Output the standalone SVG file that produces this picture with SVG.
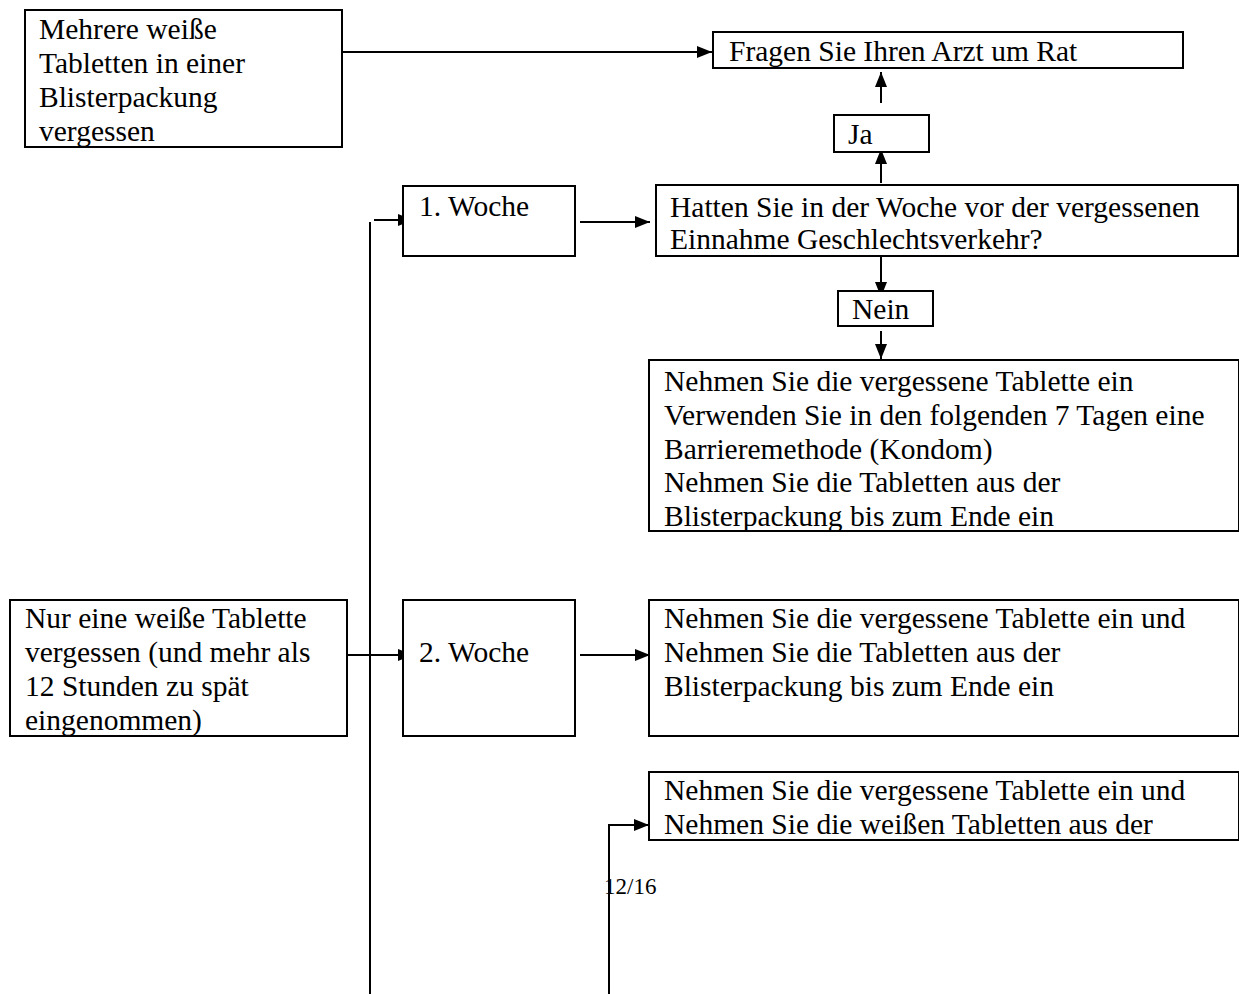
<svg xmlns="http://www.w3.org/2000/svg" width="1239" height="994" viewBox="0 0 1239 994">
<style>
.box{fill:#fff;stroke:#000;stroke-width:2}
.t{font-family:"Liberation Serif","Times New Roman",serif;font-size:29.5px;fill:#000}
.c{stroke:#000;stroke-width:2;fill:none}
.p{font-family:"Liberation Serif","Times New Roman",serif;font-size:23px;fill:#000}
</style>
<defs>
<marker id="ah" viewBox="0 0 15 12" refX="15" refY="6" markerWidth="15" markerHeight="12" markerUnits="userSpaceOnUse" orient="auto">
<path d="M0,0 L15,6 L0,12 z" fill="#000"/>
</marker>
</defs>
<rect width="1239" height="994" fill="#fff"/>
<g id="connectors">
<line class="c" x1="342" y1="52" x2="712" y2="52" marker-end="url(#ah)"/>
<line class="c" x1="881" y1="103" x2="881" y2="72" marker-end="url(#ah)"/>
<line class="c" x1="881" y1="183" x2="881" y2="149" marker-end="url(#ah)"/>
<line class="c" x1="370" y1="222" x2="370" y2="994"/>
<line class="c" x1="374" y1="220" x2="413" y2="220" marker-end="url(#ah)"/>
<line class="c" x1="580" y1="222" x2="650" y2="222" marker-end="url(#ah)"/>
<line class="c" x1="881" y1="256" x2="881" y2="297" marker-end="url(#ah)"/>
<line class="c" x1="881" y1="331" x2="881" y2="359" marker-end="url(#ah)"/>
<line class="c" x1="343" y1="655" x2="413" y2="655" marker-end="url(#ah)"/>
<line class="c" x1="580" y1="655" x2="650" y2="655" marker-end="url(#ah)"/>
<polyline class="c" points="609,994 609,825 649,825" marker-end="url(#ah)"/>
</g>
<g id="n-mehrere">
<rect class="box" x="25" y="10" width="317" height="137"/>
<text class="t" x="39" y="39">Mehrere weiße</text>
<text class="t" x="39" y="73">Tabletten in einer</text>
<text class="t" x="39" y="107">Blisterpackung</text>
<text class="t" x="39" y="141">vergessen</text>
</g>
<g id="n-fragen">
<rect class="box" x="713" y="32" width="470" height="36"/>
<text class="t" x="729" y="61">Fragen Sie Ihren Arzt um Rat</text>
</g>
<g id="n-ja">
<rect class="box" x="834" y="115" width="95" height="37"/>
<text class="t" x="848" y="144">Ja</text>
</g>
<g id="n-woche1">
<rect class="box" x="403" y="186" width="172" height="70"/>
<text class="t" x="419" y="216">1. Woche</text>
</g>
<g id="n-hatten">
<rect class="box" x="656" y="185" width="582" height="71"/>
<text class="t" x="670" y="217">Hatten Sie in der Woche vor der vergessenen</text>
<text class="t" x="670" y="249">Einnahme Geschlechtsverkehr?</text>
</g>
<g id="n-nein">
<rect class="box" x="838" y="291" width="95" height="35"/>
<text class="t" x="852" y="319">Nein</text>
</g>
<g id="n-nehmen1">
<rect class="box" x="649" y="360" width="590" height="171"/>
<text class="t" x="664" y="391">Nehmen Sie die vergessene Tablette ein</text>
<text class="t" x="664" y="425">Verwenden Sie in den folgenden 7 Tagen eine</text>
<text class="t" x="664" y="459">Barrieremethode (Kondom)</text>
<text class="t" x="664" y="492">Nehmen Sie die Tabletten aus der</text>
<text class="t" x="664" y="526">Blisterpackung bis zum Ende ein</text>
</g>
<g id="n-nur">
<rect class="box" x="10" y="600" width="337" height="136"/>
<text class="t" x="25" y="628">Nur eine weiße Tablette</text>
<text class="t" x="25" y="662">vergessen (und mehr als</text>
<text class="t" x="25" y="696">12 Stunden zu spät</text>
<text class="t" x="25" y="730">eingenommen)</text>
</g>
<g id="n-woche2">
<rect class="box" x="403" y="600" width="172" height="136"/>
<text class="t" x="419" y="662">2. Woche</text>
</g>
<g id="n-nehmen2">
<rect class="box" x="649" y="600" width="590" height="136"/>
<text class="t" x="664" y="628">Nehmen Sie die vergessene Tablette ein und</text>
<text class="t" x="664" y="662">Nehmen Sie die Tabletten aus der</text>
<text class="t" x="664" y="696">Blisterpackung bis zum Ende ein</text>
</g>
<g id="n-nehmen3">
<rect class="box" x="649" y="772" width="590" height="68"/>
<text class="t" x="664" y="800">Nehmen Sie die vergessene Tablette ein und</text>
<text class="t" x="664" y="834">Nehmen Sie die weißen Tabletten aus der</text>
</g>
<text class="p" x="604" y="894">12/16</text>
</svg>
